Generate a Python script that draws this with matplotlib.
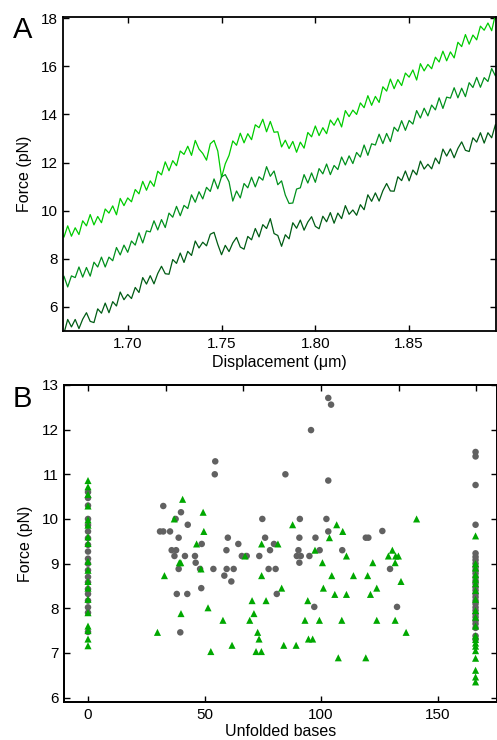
import numpy as np
import matplotlib
matplotlib.use("Agg")
import matplotlib.pyplot as plt

plt.rcParams['font.family'] = ['Liberation Sans', 'DejaVu Sans']

# ---------------- Panel A data: force-extension traces ----------------
displacement = np.linspace(1.664, 1.898, 118)  # sampling grid (um)

trace_light = [
    9.13, 8.90, 9.37, 8.94, 9.29, 9.01, 9.58, 9.37, 9.84, 9.41,
    9.76, 9.50, 10.07, 9.90, 10.20, 9.83, 10.51, 10.21, 10.53, 10.37,
    10.88, 10.70, 11.22, 10.85, 11.24, 11.01, 11.64, 11.49, 12.03, 11.66,
    12.08, 11.87, 12.48, 12.34, 12.68, 12.30, 12.92, 12.56, 12.38, 12.10,
    12.78, 12.92, 12.48, 11.38, 11.95, 12.30, 12.90, 12.72, 13.22, 12.82,
    13.20, 12.95, 13.57, 13.45, 13.80, 13.28, 13.71, 13.26, 13.28, 12.65,
    12.93, 12.58, 12.88, 12.43, 12.85, 12.60, 13.25, 13.07, 13.52, 13.12,
    13.45, 13.20, 13.77, 13.55, 13.85, 13.48, 14.16, 13.91, 14.18, 14.00,
    14.48, 14.28, 14.78, 14.38, 14.75, 14.50, 15.15, 14.97, 15.47, 15.07,
    15.45, 15.20, 15.72, 15.55, 15.85, 15.43, 16.11, 15.81, 16.08, 15.90,
    16.38, 16.18, 16.63, 16.23, 16.60, 16.35, 17.00, 16.82, 17.32, 16.92,
    17.30, 17.10, 17.67, 17.50, 17.80, 17.48, 18.16, 17.86,
]

trace_mid = [
    6.80, 7.28, 6.83, 7.29, 7.22, 7.66, 7.24, 7.64, 7.28, 7.86,
    7.66, 8.07, 7.66, 8.07, 7.92, 8.47, 8.16, 8.57, 8.27, 8.74,
    8.57, 9.08, 8.66, 9.16, 9.12, 9.58, 9.20, 9.63, 9.30, 9.90,
    9.73, 10.18, 9.79, 10.22, 10.09, 10.66, 10.35, 10.79, 10.49, 10.97,
    10.80, 11.32, 10.91, 11.41, 11.50, 11.20, 10.40, 10.82, 10.53, 11.13,
    10.95, 11.39, 10.99, 11.41, 11.27, 11.83, 11.43, 11.65, 11.08, 11.24,
    10.65, 10.30, 10.32, 10.90, 10.95, 11.50, 11.15, 11.57, 11.18, 11.75,
    11.53, 11.94, 11.50, 11.88, 11.71, 12.23, 11.90, 12.28, 11.96, 12.42,
    12.23, 12.73, 12.30, 12.78, 12.73, 13.18, 12.79, 13.21, 12.87, 13.47,
    13.30, 13.74, 13.34, 13.75, 13.60, 14.16, 13.85, 14.26, 13.94, 14.39,
    14.19, 14.69, 14.25, 14.72, 14.68, 15.11, 14.69, 15.09, 14.74, 15.32,
    15.12, 15.54, 15.13, 15.53, 15.37, 15.91, 15.60, 16.00,
]

trace_dark = [
    5.15, 4.90, 5.48, 5.17, 5.48, 5.10, 5.49, 5.76, 5.40, 5.35,
    5.92, 5.74, 6.16, 5.76, 6.22, 6.04, 6.62, 6.30, 6.52, 6.35,
    6.81, 6.60, 7.22, 6.95, 7.30, 6.96, 7.39, 7.69, 7.38, 7.36,
    7.97, 7.81, 8.24, 7.85, 8.31, 8.14, 8.74, 8.45, 8.69, 8.54,
    9.02, 9.10, 8.60, 8.17, 8.56, 8.30, 8.66, 8.89, 8.49, 8.40,
    8.93, 8.79, 9.26, 8.91, 9.42, 9.26, 9.67, 9.05, 8.97, 8.52,
    9.00, 8.83, 9.50, 9.27, 9.61, 9.19, 9.53, 9.75, 9.35, 9.25,
    9.77, 9.54, 9.92, 9.48, 9.90, 9.67, 10.21, 9.85, 10.03, 9.81,
    10.25, 10.04, 10.66, 10.39, 10.74, 10.40, 10.83, 11.13, 10.82, 10.81,
    11.41, 11.25, 11.65, 11.24, 11.69, 11.49, 12.06, 11.73, 11.93, 11.74,
    12.19, 11.95, 12.56, 12.27, 12.57, 12.20, 12.59, 12.86, 12.51, 12.46,
    13.03, 12.85, 13.24, 12.81, 13.24, 13.03, 13.58, 13.23,
]

xticks_A = [1.70, 1.75, 1.80, 1.85]
xticklabels_A = ['1.70', '1.75', '1.80', '1.85']
yticks_A = [6, 8, 10, 12, 14, 16, 18]

# ---------------- Panel B data: unfolding forces ----------------
circ_x = [
    0, 0, 0, 0, 0, 0, 0, 0, 0, 0, 0, 0, 0, 0, 0, 0, 0, 0, 0, 0,
    32.3, 39.9, 37.6, 42.8, 30.9, 32.3, 35.2, 38.9, 48.8, 35.9,
    37.8, 37.1, 41.6, 45.9, 46.2, 38.9, 48.1, 53.8, 59.5, 62.5,
    58.5, 61.5, 48.6, 38.1, 42.6, 81.0, 39.6, 54.6, 54.4, 84.7,
    95.7, 103.1, 104.3, 103.1, 60.0, 64.5, 59.4, 66.0, 68.1, 73.5,
    74.8, 76.0, 78.1, 79.8, 77.5, 80.5, 90.9, 90.7, 97.6, 90.3,
    89.6, 91.3, 95.0, 90.7, 99.4, 102.3, 103.1, 97.1, 109.1, 119.2,
    120.3, 126.3, 129.6, 132.6,
    166.3, 166.3, 166.3, 166.3, 166.3, 166.3, 166.3, 166.3, 166.3, 166.3,
    166.3, 166.3, 166.3, 166.3, 166.3, 166.3, 166.3, 166.3, 166.3, 166.3,
    166.3, 166.3, 166.3, 166.3, 166.3, 166.3, 166.3, 166.3, 166.3,
]
circ_y = [
    10.60, 10.47, 10.30, 10.00, 9.86, 9.72, 9.57, 9.42, 9.27, 9.11,
    9.00, 8.85, 8.70, 8.58, 8.43, 8.32, 8.17, 8.02, 7.90, 7.47,
    10.29, 10.15, 10.00, 9.87, 9.72, 9.72, 9.72, 9.58, 9.44, 9.30,
    9.30, 9.17, 9.17, 9.17, 9.02, 8.88, 8.88, 8.88, 8.88, 8.88,
    8.73, 8.60, 8.45, 8.32, 8.32, 8.32, 7.46, 11.29, 11.00, 11.00,
    11.99, 12.71, 12.56, 10.86, 9.58, 9.44, 9.30, 9.17, 9.17, 9.17,
    10.00, 9.58, 9.30, 9.44, 8.88, 8.88, 10.00, 9.58, 9.58, 9.30,
    9.17, 9.17, 9.17, 9.02, 9.30, 10.00, 9.72, 8.03, 9.30, 9.58,
    9.58, 9.73, 8.88, 8.03,
    11.50, 11.40, 10.76, 9.87, 9.23, 9.15, 9.08, 9.00, 8.92, 8.85,
    8.78, 8.70, 8.62, 8.55, 8.47, 8.40, 8.32, 8.25, 8.17, 8.10,
    8.02, 7.95, 7.87, 7.80, 7.72, 7.65, 7.56, 7.38, 7.30,
]

tri_x = [
    0, 0, 0, 0, 0, 0, 0, 0, 0, 0, 0, 0, 0, 0, 0, 0, 0, 0,
    40.6, 37.0, 49.4, 49.7, 46.6, 39.2, 39.8, 32.8, 48.5, 39.9,
    29.8, 51.5, 52.7, 57.9, 61.8, 67.4, 70.4, 69.4, 71.2, 72.8,
    73.4, 72.1, 74.4, 74.5, 74.5, 76.4, 81.5, 83.1, 84.0, 87.8,
    89.3, 94.3, 93.1, 94.6, 96.4, 97.4, 100.6, 101.0, 103.6, 104.6,
    105.9, 106.7, 109.3, 110.9, 110.9, 107.4, 99.3, 108.9, 113.9, 120.0,
    122.2, 121.2, 123.9, 123.9, 119.2, 131.8, 136.5, 130.6, 128.9, 132.0,
    133.2, 131.8, 134.3, 141.0,
    166.3, 166.3, 166.3, 166.3, 166.3, 166.3, 166.3, 166.3, 166.3, 166.3,
    166.3, 166.3, 166.3, 166.3, 166.3, 166.3, 166.3, 166.3, 166.3, 166.3,
]
tri_y = [
    10.86, 10.72, 10.55, 10.29, 9.98, 9.86, 9.60, 9.45, 9.05, 8.85,
    8.60, 8.45, 8.20, 7.90, 7.60, 7.50, 7.31, 7.16,
    10.44, 10.00, 10.15, 9.72, 9.44, 9.02, 9.02, 8.73, 8.88, 7.88,
    7.46, 8.01, 7.03, 7.73, 7.17, 9.17, 8.17, 7.73, 7.88, 7.46,
    7.31, 7.03, 7.03, 9.44, 8.73, 8.17, 9.44, 8.45, 7.17, 9.87,
    7.17, 8.17, 7.73, 7.31, 7.31, 9.30, 9.02, 8.45, 9.58, 8.73,
    8.31, 9.87, 9.72, 9.17, 8.31, 6.89, 7.73, 7.73, 8.73, 8.73,
    9.02, 8.31, 8.45, 7.73, 6.89, 7.73, 7.46, 9.30, 9.17, 9.17,
    9.17, 9.02, 8.60, 10.00,
    9.62, 9.00, 8.90, 8.75, 8.65, 8.55, 8.40, 8.20, 7.95, 7.80,
    7.60, 7.38, 7.30, 7.22, 7.15, 7.05, 6.88, 6.61, 6.46, 6.35,
]

xticks_B = [0, 50, 100, 150]
yticks_B = [6, 7, 8, 9, 10, 11, 12, 13]
top_ticks_B = [0, 33.3, 66.7, 100, 133.3, 166.7]

# ---------------- Figure ----------------
W, H = 497, 740
fig = plt.figure(figsize=(W / 100, H / 100), dpi=100)

def style(ax):
    for s in ax.spines.values():
        s.set_linewidth(1.3)
    ax.tick_params(direction='in', length=4, width=1.0, labelsize=11,
                   top=True, right=True, pad=4)

axA = fig.add_axes([63 / W, 1 - 331 / H, 433 / W, 314 / H])
axA.plot(displacement, trace_light, color='#00cc00', lw=0.9)
axA.plot(displacement, trace_mid, color='#00901c', lw=0.9)
axA.plot(displacement, trace_dark, color='#005c14', lw=0.9)
axA.set_xlim(1.6655, 1.8963)
axA.set_ylim(5.0, 18.05)
axA.set_xticks(xticks_A)
axA.set_xticklabels(xticklabels_A)
axA.set_yticks(yticks_A)
style(axA)
axA.set_xlabel('Displacement (\u03bcm)', fontsize=11.5, labelpad=3)
axA.set_ylabel('Force (pN)', fontsize=11.5, labelpad=6)

axB = fig.add_axes([64 / W, 1 - 702 / H, 433 / W, 317 / H])
axB.scatter(circ_x, circ_y, s=22, marker='o', color='#616161', edgecolors='none', zorder=3)
axB.scatter(tri_x, tri_y, s=26, marker='^', color='#00a800', edgecolors='none', zorder=4)
axB.set_xlim(-10.3, 175.5)
axB.set_ylim(5.9, 13.0)
axB.set_xticks(xticks_B)
axB.set_yticks(yticks_B)
style(axB)
axB.tick_params(top=False)
axT = axB.twiny()
axT.set_xlim(axB.get_xlim())
axT.set_xticks(top_ticks_B)
axT.set_xticklabels([])
axT.tick_params(direction='in', length=4, width=1.0)
for s in axT.spines.values():
    s.set_linewidth(1.3)
axB.set_xlabel('Unfolded bases', fontsize=11.5, labelpad=2)
axB.set_ylabel('Force (pN)', fontsize=11.5, labelpad=6)

fig.text(13 / W, 1 - 38 / H, 'A', fontsize=21, ha='left', va='baseline')
fig.text(13 / W, 1 - 407 / H, 'B', fontsize=21, ha='left', va='baseline')

fig.savefig('out.png', dpi=100)
